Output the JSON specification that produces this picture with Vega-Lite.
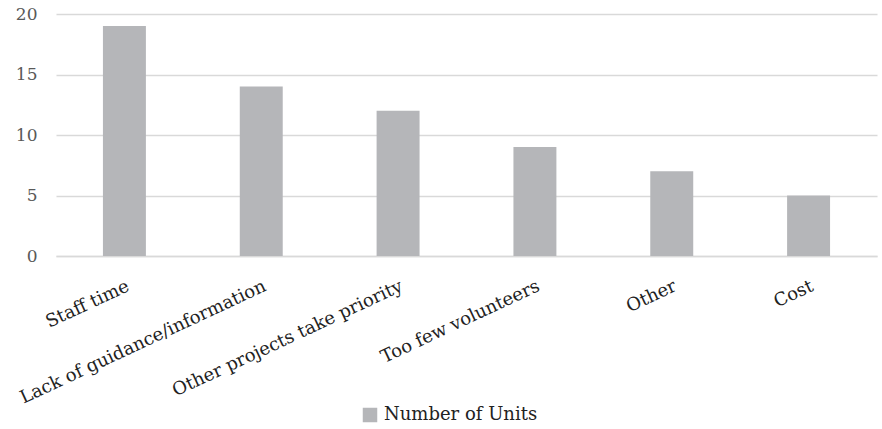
{
  "$schema": "https://vega.github.io/schema/vega-lite/v6.json",
  "autosize": "none",
  "padding": {"left": 56, "top": 14, "right": 5, "bottom": 173},
  "width": 821,
  "height": 242,
  "background": "white",
  "config": {
    "font": "DejaVu Serif",
    "view": {"stroke": null}
  },
  "data": {
    "values": [
      {"category": "Staff time", "series": "Number of Units", "value": 19},
      {"category": "Lack of guidance/information", "series": "Number of Units", "value": 14},
      {"category": "Other projects take priority", "series": "Number of Units", "value": 12},
      {"category": "Too few volunteers", "series": "Number of Units", "value": 9},
      {"category": "Other", "series": "Number of Units", "value": 7},
      {"category": "Cost", "series": "Number of Units", "value": 5}
    ]
  },
  "mark": {"type": "bar"},
  "encoding": {
    "x": {
      "field": "category",
      "type": "nominal",
      "sort": null,
      "title": null,
      "scale": {"paddingInner": 0.686, "paddingOuter": 0.343},
      "axis": {
        "labelAngle": -25,
        "labelFont": "DejaVu Serif",
        "labelFontSize": 18,
        "labelColor": "#222222",
        "labelPadding": 21,
        "labelOffset": 0,
        "ticks": false,
        "domain": true,
        "domainColor": "#d9d9d9",
        "domainWidth": 1.5,
        "labelLimit": 400
      }
    },
    "y": {
      "field": "value",
      "type": "quantitative",
      "title": null,
      "scale": {"domain": [0, 20]},
      "axis": {
        "values": [0, 5, 10, 15, 20],
        "labelFont": "DejaVu Serif",
        "labelFontSize": 17,
        "labelColor": "#595959",
        "labelPadding": 19,
        "ticks": false,
        "domain": false,
        "gridColor": "#d9d9d9",
        "gridWidth": 1.5
      }
    },
    "color": {
      "field": "series",
      "type": "nominal",
      "scale": {"range": ["#b5b6b9"]},
      "legend": {
        "title": null,
        "orient": "none",
        "legendX": 305,
        "legendY": 392,
        "symbolType": "square",
        "symbolSize": 210,
        "symbolStrokeWidth": 0,
        "labelFont": "DejaVu Serif",
        "labelFontSize": 18,
        "labelColor": "#222222",
        "labelOffset": 5
      }
    }
  }
}
